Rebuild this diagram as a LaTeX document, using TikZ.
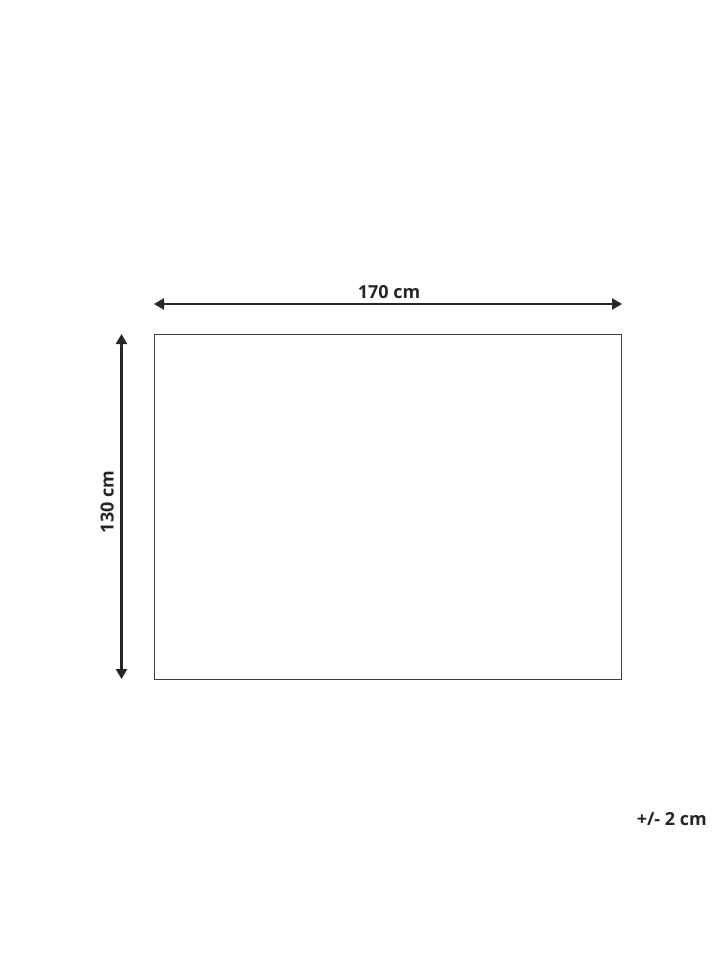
\documentclass[tikz,border=0pt]{standalone}
\usepackage{fontspec}
\setmainfont{Open Sans}
\usetikzlibrary{arrows.meta}

\begin{document}
\begin{tikzpicture}[x=1pt,y=-1pt,
    dimline/.style={line width=2.6pt, color=black!85, {Triangle[length=10pt,width=11pt]}-{Triangle[length=10pt,width=11pt]}},
    dimlabel/.style={font=\bfseries\fontsize{18}{18}\selectfont, text=black!85, inner sep=0pt}]
\useasboundingbox (0,0) rectangle (720,960);
\coordinate (tl) at (154.5,334);
\coordinate (br) at (621.5,679);
\draw[line width=1pt, color=black!75] (tl) rectangle (br);
% width
\coordinate (wl) at (154,304);
\coordinate (wr) at (622,304);
\draw[dimline] (wl) -- (wr);
\node[dimlabel, anchor=base] (wlab) at (389,298) {170 cm};
% height
\coordinate (ht) at (121.5,334);
\coordinate (hb) at (121.5,679);
\draw[dimline] (ht) -- (hb);
\node[dimlabel, anchor=base, rotate=90] (hlab) at (113.5,502) {130 cm};
% tolerance
\node[dimlabel, anchor=base east] (tol) at (707,825) {+/- 2 cm};
\end{tikzpicture}
\end{document}
